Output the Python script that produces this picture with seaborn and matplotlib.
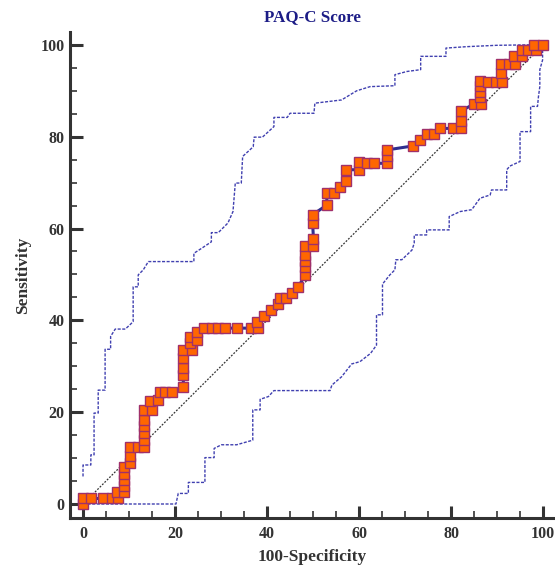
import matplotlib
matplotlib.use("Agg")
import matplotlib.pyplot as plt
import seaborn as sns
import pandas as pd
from matplotlib.ticker import MultipleLocator

# ---------------- data ----------------
roc_x = [0, 0, 1.7, 4.4, 6.2, 7.5, 7.3, 8.8, 8.8, 8.8, 8.8, 8.8, 10.2, 10.2, 10.2,
         12.0, 13.3, 13.3, 13.3, 13.3, 13.3, 13.3, 14.9, 14.6, 16.4, 16.7, 17.9, 19.3,
         21.8, 21.8, 21.8, 21.8, 21.8, 23.6, 23.3, 23.3, 24.8, 24.8,
         26.3, 28.0, 29.4, 30.9, 33.5, 36.5, 38.1, 37.9, 39.3, 40.9, 42.3, 42.8, 44.1,
         45.4, 46.8, 48.3, 48.3, 48.3, 48.3, 48.3, 50.1, 50.1, 49.9, 49.9, 53.0, 53.0,
         54.6, 55.9, 57.2, 57.2, 60.1, 60.1, 61.8, 63.3, 66.0, 66.0, 66.0, 71.8, 73.3,
         74.8, 76.3, 77.6, 80.5, 82.1, 82.1, 82.1, 85.0, 86.5, 86.3, 86.3, 86.3, 86.3,
         88.1, 89.8, 91.1, 90.9, 90.9, 92.5, 93.9, 93.7, 95.4, 95.4, 96.8, 98.4, 98.0, 99.9]
roc_y = [0, 1.2, 1.2, 1.2, 1.2, 1.2, 2.6, 2.6, 3.9, 5.3, 6.6, 8.0, 8.9, 10.4, 12.4,
         12.5, 12.5, 14.0, 15.4, 16.9, 18.3, 20.5, 20.5, 22.4, 22.7, 24.3, 24.4, 24.4,
         25.4, 28.1, 29.6, 31.7, 33.6, 33.6, 35.0, 36.3, 35.8, 37.4,
         38.3, 38.3, 38.3, 38.3, 38.3, 38.3, 38.3, 39.7, 41.0, 42.2, 43.6, 44.8, 44.8,
         45.9, 47.3, 49.9, 51.6, 53.0, 54.3, 56.1, 56.1, 57.7, 61.3, 63.0, 65.1, 67.8,
         67.8, 69.1, 70.4, 72.8, 72.8, 74.4, 74.2, 74.2, 74.2, 75.8, 77.1, 78.0, 79.3,
         80.6, 80.6, 81.8, 81.8, 81.8, 83.5, 85.6, 87.1, 87.1, 88.7, 89.8, 91.1, 92.2,
         92.0, 92.0, 92.0, 93.8, 95.9, 95.9, 95.9, 97.5, 97.5, 98.8, 98.8, 98.8, 100, 100]

upper_x = [0, 0, 1.7, 1.7, 2.4, 2.4, 3.3, 3.3, 4.8, 4.8, 6.0, 6.0, 7.0, 9.2, 10.9, 10.9,
           12.0, 12.0, 13.1, 14.2, 24.1, 24.1, 25.8, 27.9, 27.9, 29.4, 31.5, 32.6, 33.1,
           34.4, 34.7, 37.0, 37.2, 39.0, 41.5, 41.5, 44.4, 45.0, 50.2, 50.4, 56.2, 59.5,
           62.4, 67.8, 67.8, 70.4, 73.4, 73.4, 78.9, 78.9, 83.3, 89.9, 96.5, 100]
upper_y = [6.0, 8.5, 8.5, 10.7, 10.7, 19.8, 19.8, 24.8, 24.8, 33.7, 33.7, 36.5, 38.1, 38.1,
           39.7, 47.3, 47.3, 49.9, 51.0, 52.8, 52.8, 54.6, 55.7, 57.1, 59.1, 59.1, 61.2,
           63.7, 69.9, 69.9, 75.7, 77.8, 79.9, 79.9, 82.2, 84.2, 84.2, 85.1, 85.1, 87.3,
           88.0, 90.0, 90.9, 91.1, 93.5, 94.2, 94.6, 97.5, 97.5, 99.3, 99.6, 99.9, 100, 100]

lower_x = [0, 20.2, 20.7, 22.9, 22.9, 26.5, 26.5, 28.5, 28.5, 30.1, 33.4, 36.9, 36.9, 38.5,
           38.5, 40.3, 41.5, 53.7, 54.1, 56.2, 58.4, 60.2, 62.5, 63.8, 63.8, 65.1, 65.1,
           66.7, 67.8, 68.0, 69.3, 71.5, 72.0, 72.0, 74.7, 74.7, 79.6, 79.6, 82.0, 84.5,
           86.3, 88.5, 88.8, 92.1, 92.1, 92.8, 95.0, 95.0, 97.3, 97.3, 98.8, 99.0, 99.3,
           99.3, 99.9, 99.9, 100]
lower_y = [0, 0, 2.3, 2.3, 4.7, 4.7, 10.1, 10.1, 12.1, 12.9, 12.9, 13.9, 20.5, 20.5, 22.8,
           23.4, 24.7, 24.7, 25.9, 27.7, 30.5, 31.0, 32.8, 34.6, 41.2, 41.2, 47.9, 49.9,
           51.0, 53.2, 53.2, 55.3, 56.8, 58.6, 58.6, 59.7, 59.7, 62.6, 63.7, 64.1, 66.6,
           67.3, 68.4, 68.4, 72.8, 73.6, 74.6, 81.1, 81.1, 86.6, 86.6, 88.7, 90.9, 94.6,
           96.7, 98.9, 100]

diag_x = [0, 100]
diag_y = [0, 100]

tick_values = [0, 20, 40, 60, 80, 100]
title = "PAQ-C Score"
xlabel = "100-Specificity"
ylabel = "Sensitivity"

# ---------------- style ----------------
sns.set_style("ticks")
plt.rcParams["font.family"] = ["Liberation Serif", "DejaVu Serif"]

fig = plt.figure(figsize=(5.55, 5.66), dpi=100)
ax = fig.add_axes([70 / 555, 48 / 566, 485 / 555, 486 / 566])

band_color = "#4040b0"
sns.lineplot(x=upper_x, y=upper_y, sort=False, estimator=None, ax=ax,
             color=band_color, lw=1.0, linestyle=(0, (2.2, 1.1)))
sns.lineplot(x=lower_x, y=lower_y, sort=False, estimator=None, ax=ax,
             color=band_color, lw=1.0, linestyle=(0, (2.2, 1.1)))
sns.lineplot(x=diag_x, y=diag_y, sort=False, estimator=None, ax=ax,
             color="#333333", lw=0.9, linestyle=(0, (1.5, 1.2)))

roc_df = pd.DataFrame({"fpr": roc_x, "tpr": roc_y})
sns.lineplot(data=roc_df, x="fpr", y="tpr", sort=False, estimator=None, ax=ax,
             color="#2e2e8f", lw=2.2, marker="s", markersize=6.6,
             markerfacecolor="#ff6600", markeredgecolor="#a0306a", markeredgewidth=1.0)

ax.set_xlim(-2.83, 102.6)
ax.set_ylim(-3.05, 102.8)
ax.xaxis.set_minor_locator(MultipleLocator(5))
ax.yaxis.set_minor_locator(MultipleLocator(5))
ax.set_xticks(tick_values)
ax.set_yticks(tick_values)
ax.set_xticklabels([str(v) for v in tick_values])
ax.set_yticklabels([str(v) for v in tick_values])

for s in ["top", "right"]:
    ax.spines[s].set_visible(False)
for s in ["left", "bottom"]:
    ax.spines[s].set_linewidth(2.2)
    ax.spines[s].set_color("#333333")

ax.tick_params(which="major", direction="in", length=9, width=2.2, color="#333333",
               labelsize=11.5, labelcolor="#333333")
ax.tick_params(which="minor", direction="in", length=5, width=1.2, color="#333333")
for lab in ax.get_xticklabels() + ax.get_yticklabels():
    lab.set_fontweight("bold")
ax.tick_params(axis="x", pad=6)
ax.tick_params(axis="y", pad=4)

ax.set_xlabel(xlabel, fontsize=12.5, fontweight="bold", color="#333333", labelpad=5)
ax.set_ylabel(ylabel, fontsize=12.5, fontweight="bold", color="#333333", labelpad=7)
fig.text(312.5 / 555, 1 - 17 / 566, title, ha="center", va="center",
         fontsize=12.2, fontweight="bold", color="#1c1c86")

ax.grid(False)
fig.savefig("out.png", dpi=100)
